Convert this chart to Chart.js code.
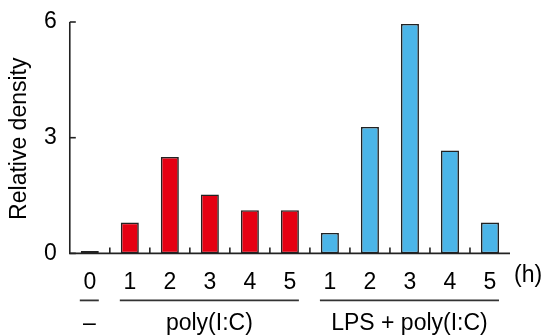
<!DOCTYPE html>
<html>
<head>
<meta charset="utf-8">
<script src="https://cdn.jsdelivr.net/npm/chart.js@4/dist/chart.umd.min.js"></script>
<style>
  html, body { margin: 0; padding: 0; background: #fff; }
  #wrap { width: 545px; height: 335px; }
</style>
</head>
<body>
<div id="wrap"><canvas id="chart" width="545" height="335"></canvas></div>
<script>
// hour labels along the x axis
var hourLabels = ['0', '1', '2', '3', '4', '5', '1', '2', '3', '4', '5'];
// relative density per group
var controlValues = [0.06];
var polyValues = [0.8, 2.5, 1.53, 1.12, 1.12];
var lpsPolyValues = [0.53, 3.28, 5.95, 2.67, 0.8];
var yTicks = [0, 3, 6];
var groupNames = ['\u2013', 'poly(I:C)', 'LPS + poly(I:C)'];
var yTitle = 'Relative density';

var FONT = '"Liberation Sans", Arial, Helvetica, sans-serif';
var INK = '#222222';

function pad(values, before, total) {
  var out = [];
  for (var i = 0; i < total; i++) {
    var j = i - before;
    out.push(j >= 0 && j < values.length ? values[j] : null);
  }
  return out;
}

var n = hourLabels.length;
var groups = [
  { start: 0, count: controlValues.length },
  { start: controlValues.length, count: polyValues.length },
  { start: controlValues.length + polyValues.length, count: lpsPolyValues.length }
];

function barSet(values, start, color) {
  return {
    data: pad(values, start, n),
    backgroundColor: color,
    borderColor: INK,
    borderWidth: 1.6,
    borderSkipped: false,
    grouped: false,
    categoryPercentage: 1,
    barPercentage: 0.45
  };
}

// axis lines, inward ticks, titles, group rules and labels
var decor = {
  id: 'decor',
  afterDraw: function(chart) {
    var ctx = chart.ctx;
    var x = chart.scales.x, y = chart.scales.y;
    var area = chart.chartArea;
    ctx.save();
    ctx.strokeStyle = INK;
    ctx.lineWidth = 1.6;
    ctx.beginPath();
    ctx.moveTo(area.left, y.getPixelForValue(6));
    ctx.lineTo(area.left, y.getPixelForValue(0));
    ctx.lineTo(area.right, y.getPixelForValue(0));
    ctx.stroke();

    // y ticks pointing inward
    yTicks.forEach(function(v) {
      var py = y.getPixelForValue(v);
      ctx.beginPath();
      ctx.moveTo(area.left, py);
      ctx.lineTo(area.left + 6, py);
      ctx.stroke();
    });

    // x ticks at category boundaries, pointing up
    var y0 = y.getPixelForValue(0);
    for (var i = 0; i < n - 1; i++) {
      var bx = (x.getPixelForValue(i) + x.getPixelForValue(i + 1)) / 2;
      ctx.beginPath();
      ctx.moveTo(bx, y0);
      ctx.lineTo(bx, y0 - 6);
      ctx.stroke();
    }

    ctx.fillStyle = '#000';
    ctx.textBaseline = 'middle';

    // y title, rotated
    ctx.save();
    ctx.translate(20, (area.top + area.bottom) / 2 + 1);
    ctx.rotate(-Math.PI / 2);
    ctx.textAlign = 'center';
    ctx.font = '23px ' + FONT;
    ctx.fillText(yTitle, 0, 0);
    ctx.restore();

    // unit label
    ctx.font = '23px ' + FONT;
    ctx.textAlign = 'left';
    ctx.fillText('(h)', area.right + 4, y0 + 22);

    // group rules and names
    ctx.strokeStyle = '#333';
    ctx.lineWidth = 1.8;
    ctx.textAlign = 'center';
    groups.forEach(function(g, k) {
      var x1 = x.getPixelForValue(g.start) - 10;
      var x2 = x.getPixelForValue(g.start + g.count - 1) + 9;
      ctx.beginPath();
      ctx.moveTo(x1, y0 + 47);
      ctx.lineTo(x2, y0 + 47);
      ctx.stroke();
      ctx.fillText(groupNames[k], (x1 + x2) / 2, y0 + 70);
    });
    ctx.restore();
  }
};

new Chart(document.getElementById('chart'), {
  type: 'bar',
  data: {
    labels: hourLabels,
    datasets: [
      barSet(controlValues, groups[0].start, '#222222'),
      barSet(polyValues, groups[1].start, '#e50012'),
      barSet(lpsPolyValues, groups[2].start, '#4bb5e8')
    ]
  },
  options: {
    responsive: false,
    animation: false,
    layout: { padding: { left: 39, right: 35, top: 22, bottom: 32 } },
    plugins: { legend: { display: false }, tooltip: { enabled: false } },
    scales: {
      x: {
        grid: { display: false },
        border: { display: false },
        ticks: { color: '#000', font: { family: FONT, size: 23 }, padding: 7, maxRotation: 0, autoSkip: false }
      },
      y: {
        min: 0,
        max: 6,
        afterBuildTicks: function(axis) {
          axis.ticks = yTicks.map(function(v) { return { value: v }; });
        },
        grid: { display: false },
        border: { display: false },
        ticks: { color: '#000', font: { family: FONT, size: 23 }, padding: 5 }
      }
    }
  },
  plugins: [decor]
});
</script>
</body>
</html>
